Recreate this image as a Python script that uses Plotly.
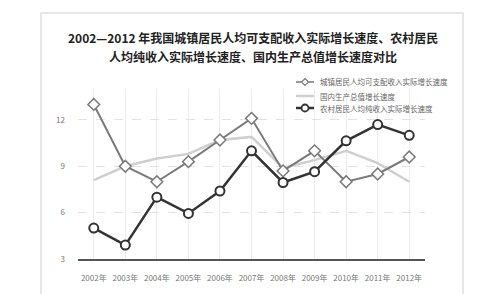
import plotly.graph_objects as go

years = ["2002年", "2003年", "2004年", "2005年", "2006年", "2007年",
         "2008年", "2009年", "2010年", "2011年", "2012年"]
urban = [13.0, 9.0, 8.0, 9.3, 10.7, 12.1, 8.7, 10.0, 8.0, 8.5, 9.6]
gdp = [8.1, 9.0, 9.5, 9.8, 10.7, 10.9, 8.9, 9.4, 10.0, 9.2, 8.0]
rural = [5.0, 3.9, 7.0, 5.95, 7.4, 10.0, 7.95, 8.65, 10.65, 11.7, 11.0]
y_ticks = [3, 6, 9, 12]

name_urban = "城镇居民人均可支配收入实际增长速度"
name_gdp = "国内生产总值增长速度"
name_rural = "农村居民人均纯收入实际增长速度"

FONT = "Noto Sans CJK SC"
C_URBAN, C_GDP, C_RURAL = "#7a7a7a", "#cfcfcf", "#333333"

fig = go.Figure()
fig.add_trace(go.Scatter(
    x=years, y=gdp, name=name_gdp, mode="lines",
    line=dict(color=C_GDP, width=2.5),
))
fig.add_trace(go.Scatter(
    x=years, y=urban, name=name_urban, mode="lines+markers",
    line=dict(color=C_URBAN, width=2),
    marker=dict(symbol="diamond", size=9, color="white",
                line=dict(color=C_URBAN, width=1.5)),
))
fig.add_trace(go.Scatter(
    x=years, y=rural, name=name_rural, mode="lines+markers",
    line=dict(color=C_RURAL, width=2.5),
    marker=dict(symbol="circle", size=9, color="white",
                line=dict(color=C_RURAL, width=2)),
))

L, R, T, B = 70, 60, 81, 43
W, H = 477, 294
pw = W - L - R
ph = H - T - B

def px_x(x):
    return (x - L) / pw

def px_y(y):
    return (H - B - y) / ph

shapes = [dict(
    type="rect", xref="paper", yref="paper",
    x0=px_x(33), x1=px_x(455), y0=px_y(291), y1=px_y(5),
    line=dict(color="#e0e0e0", width=1.5), fillcolor="rgba(0,0,0,0)",
    layer="below",
)]
annotations = [
    dict(text="<b>2002—2012 年我国城镇居民人均可支配收入实际增长速度、农村居民</b>",
         xref="paper", yref="paper", x=px_x(245), y=px_y(30),
         xanchor="center", yanchor="middle", showarrow=False,
         font=dict(family=FONT, size=12, color="#222222")),
    dict(text="<b>人均纯收入实际增长速度、国内生产总值增长速度对比</b>",
         xref="paper", yref="paper", x=px_x(245), y=px_y(48),
         xanchor="center", yanchor="middle", showarrow=False,
         font=dict(family=FONT, size=12, color="#222222")),
]

# hand-placed legend (order: urban, gdp, rural)
legend_items = [
    (name_urban, C_URBAN, 1.5, "diamond", 74),
    (name_gdp, C_GDP, 2.5, None, 88),
    (name_rural, C_RURAL, 2.5, "circle", 100),
]
lx0, lx1 = 288, 306
for text, color, width, sym, ly in legend_items:
    shapes.append(dict(type="line", xref="paper", yref="paper",
                       x0=px_x(lx0), x1=px_x(lx1), y0=px_y(ly), y1=px_y(ly),
                       line=dict(color=color, width=width)))
    cx = (lx0 + lx1) / 2
    r = 3.5
    if sym == "circle":
        shapes.append(dict(type="circle", xref="paper", yref="paper",
                           x0=px_x(cx - r), x1=px_x(cx + r),
                           y0=px_y(ly + r), y1=px_y(ly - r),
                           line=dict(color=color, width=1.8), fillcolor="white"))
    elif sym == "diamond":
        path = "M {} {} L {} {} L {} {} L {} {} Z".format(
            px_x(cx), px_y(ly - r), px_x(cx + r), px_y(ly),
            px_x(cx), px_y(ly + r), px_x(cx - r), px_y(ly))
        shapes.append(dict(type="path", xref="paper", yref="paper", path=path,
                           line=dict(color=color, width=1.2), fillcolor="white"))
    annotations.append(dict(text=text, xref="paper", yref="paper",
                            x=px_x(310), y=px_y(ly), xanchor="left", yanchor="middle",
                            showarrow=False,
                            font=dict(family=FONT, size=7.5, color="#666666")))

fig.update_layout(
    width=W, height=H,
    margin=dict(l=L, r=R, t=T, b=B),
    paper_bgcolor="white", plot_bgcolor="white",
    showlegend=False,
    font=dict(family=FONT),
    xaxis=dict(
        type="category", range=[-0.5, 10.5],
        showgrid=True, gridcolor="#ececec", gridwidth=1,
        showline=True, linecolor="#555555", linewidth=2,
        ticks="", tickfont=dict(family=FONT, size=8, color="#777777"),
        ticklabelstandoff=10,
    ),
    yaxis=dict(
        range=[3, 14], tickvals=y_ticks,
        showgrid=True, gridcolor="#e2e2e2", gridwidth=1, griddash="dash",
        zeroline=False, showline=False,
        ticks="", tickfont=dict(family=FONT, size=8, color="#777777"),
        ticklabelstandoff=12,
    ),
    shapes=shapes,
    annotations=annotations,
)

fig.write_html("out.html")
